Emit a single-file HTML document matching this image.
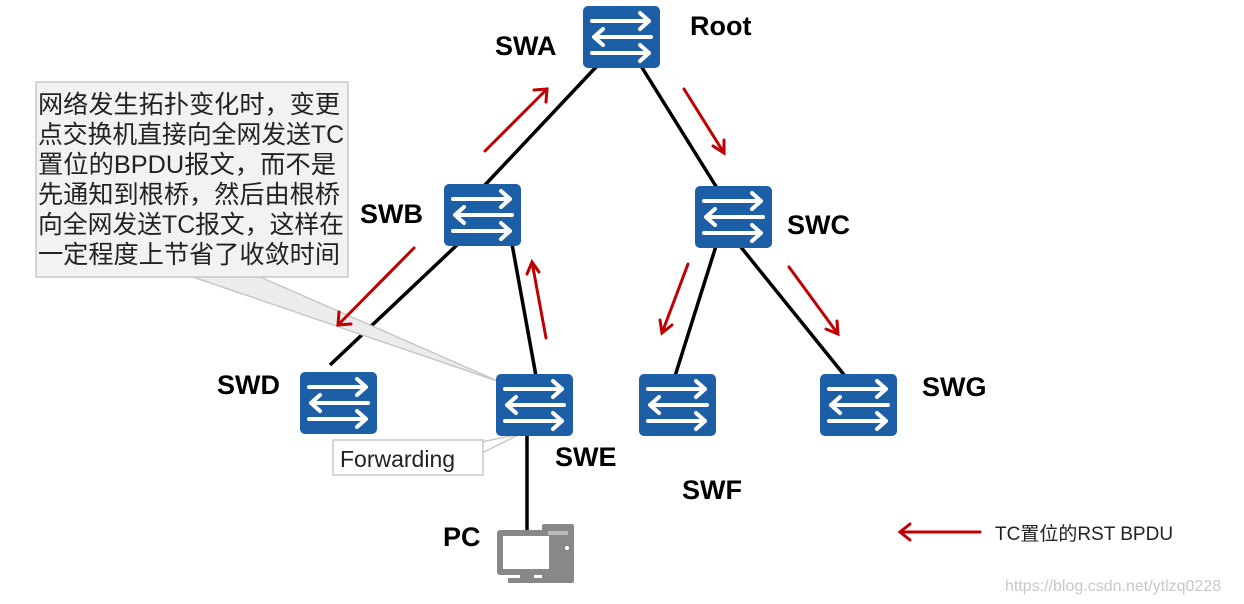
<!DOCTYPE html>
<html><head><meta charset="utf-8"><style>
body{margin:0;background:#fff;}
svg{display:block}
.l{font-family:"Liberation Sans","Noto Sans CJK SC",sans-serif;font-weight:bold;font-size:27px;fill:#000}
</style></head><body>
<svg width="1244" height="604" viewBox="0 0 1244 604" xmlns="http://www.w3.org/2000/svg">
<defs>
<g id="sw">
<rect x="0" y="0" width="77" height="62" rx="5" fill="#1d5fa6"/>
<g stroke="#fff" stroke-width="4" fill="none" stroke-linecap="round" stroke-linejoin="round">
<path d="M9 15 H66 M57 7 L66 15 L57 23"/>
<path d="M68 31 H11 M20 23 L11 31 L20 39"/>
<path d="M9 47 H66 M57 39 L66 47 L57 55"/>
</g>
</g>
</defs>
<g stroke="#000" stroke-width="3.5">
<line x1="597" y1="66" x2="484" y2="186"/>
<line x1="641" y1="66" x2="717" y2="188"/>
<line x1="458" y1="244" x2="330" y2="365"/>
<line x1="512" y1="244" x2="536" y2="376"/>
<line x1="716" y1="246" x2="675" y2="376"/>
<line x1="740" y1="246" x2="845" y2="376"/>
<line x1="527" y1="434" x2="527" y2="532"/>
</g>
<path d="M190 276 L500 382 L258 276 Z" fill="#ececec" stroke="#c8c8c8" stroke-width="1.5"/>
<rect x="36" y="82" width="312" height="195" fill="#f2f2f2" stroke="#c8c8c8" stroke-width="1.5"/>
<path d="M472 444 L520 434 L472 458" fill="#fff" stroke="#c8c8c8" stroke-width="1.5"/>
<rect x="333" y="440" width="150" height="35" fill="#fff" stroke="#c8c8c8" stroke-width="1.5"/>
<text x="340" y="467" font-family="Liberation Sans,sans-serif" font-size="23" fill="#222">Forwarding</text>
<g font-family="Liberation Sans,'Noto Sans CJK SC',sans-serif" font-size="25" fill="#222">
<text x="38" y="113" textLength="302" lengthAdjust="spacingAndGlyphs">网络发生拓扑变化时，变更</text>
<text x="38" y="143" textLength="306" lengthAdjust="spacingAndGlyphs">点交换机直接向全网发送TC</text>
<text x="38" y="173" textLength="298" lengthAdjust="spacingAndGlyphs">置位的BPDU报文，而不是</text>
<text x="38" y="203" textLength="302" lengthAdjust="spacingAndGlyphs">先通知到根桥，然后由根桥</text>
<text x="38" y="233" textLength="306" lengthAdjust="spacingAndGlyphs">向全网发送TC报文，这样在</text>
<text x="38" y="263" textLength="302" lengthAdjust="spacingAndGlyphs">一定程度上节省了收敛时间</text>
</g>
<use href="#sw" x="583" y="6"/>
<use href="#sw" x="444" y="184"/>
<use href="#sw" x="695" y="186"/>
<use href="#sw" x="300" y="372"/>
<use href="#sw" x="496" y="374"/>
<use href="#sw" x="639" y="374"/>
<use href="#sw" x="820" y="374"/>
<g stroke="#c00000" stroke-width="3" fill="none" stroke-linecap="round">
<path d="M485 151 L547 89 M534 90 L547 89 L546 102"/>
<path d="M684 89 L724 153 M724 140 L724 153 L713 146"/>
<path d="M414 248 L338 325 M339 312 L338 325 L351 324"/>
<path d="M546 338 L532 262 M527 274 L532 262 L539 272"/>
<path d="M688 264 L662 333 M660 320 L662 333 L672 325"/>
<path d="M789 267 L838 334 M837 321 L838 334 L826 329"/>
<path d="M980 532 H900 M910 524 L900 532 L910 540"/>
</g>
<text class="l" x="495" y="55">SWA</text>
<text class="l" x="690" y="35">Root</text>
<text class="l" x="360" y="223">SWB</text>
<text class="l" x="787" y="234">SWC</text>
<text class="l" x="217" y="394">SWD</text>
<text class="l" x="555" y="466">SWE</text>
<text class="l" x="682" y="499">SWF</text>
<text class="l" x="922" y="396">SWG</text>
<text class="l" x="443" y="546">PC</text>
<text x="995" y="540" font-family="Liberation Sans,'Noto Sans CJK SC',sans-serif" font-size="19" fill="#222">TC置位的RST BPDU</text>
<text x="1005" y="591" font-family="Liberation Sans,sans-serif" font-size="16" fill="#c8c8c8">https://blog.csdn.net/ytlzq0228</text>
<g fill="#888">
<rect x="542" y="524" width="32" height="59" rx="2"/>
<rect x="497" y="530" width="58" height="45" rx="3"/>
<rect x="503" y="536" width="46" height="33" fill="#fff"/>
<rect x="520" y="575" width="14" height="4"/>
<rect x="508" y="578" width="40" height="5"/>
<rect x="548" y="531" width="20" height="4" fill="#bbb"/>
<circle cx="567" cy="548" r="2" fill="#fff"/>
</g>
</svg>
</body></html>
